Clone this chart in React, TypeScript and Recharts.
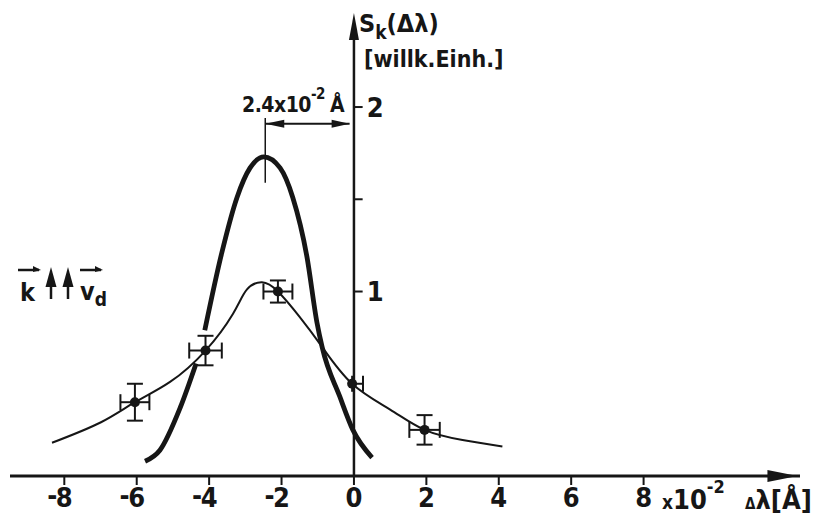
import React from "react"
import {
  ComposedChart,
  Line,
  Scatter,
  ErrorBar,
  XAxis,
  YAxis,
  ReferenceLine,
  ReferenceDot,
} from "recharts"

const xTicks = [-8, -6, -4, -2, 0, 2, 4, 6, 8]
const yTicks = [1, 1.5, 2]
const yTickLabels = ["1", "", "2"]

// Messpunkte (x in 10^-2 Å) mit Fehlerbalken
const measX = [-6.05, -4.1, -2.1, -0.05, 1.95]
const measY = [0.4, 0.68, 1.0, 0.5, 0.25]
const measErrX = [[0.4, 0.4], [0.45, 0.45], [0.4, 0.4], [0, 0.3], [0.42, 0.42]]
const measErrY = [0.1, 0.08, 0.06, 0, 0.08]

// duenne Kurve durch die Messpunkte
const thinX = [-8.34, -7.0, -6.05, -5.08, -4.1, -3.34, -2.96, -2.54, -2.1, -1.49, -0.88, -0.05, 1.0, 1.95, 3.0, 4.1]
const thinY = [0.18, 0.29, 0.4, 0.51, 0.68, 0.88, 1.01, 1.05, 1.0, 0.86, 0.7, 0.5, 0.36, 0.25, 0.195, 0.16]

// dicke Kurve (Luecke beim Messpunkt bei -4)
const thickX = [-5.77, -5.36, -4.8, -4.36, -4.24, -4.12, -3.65, -3.23, -2.87, -2.49, -2.04, -1.69, -1.3, -1.02, -0.88, -0.39, -0.03, 0.5]
const thickY = [0.08, 0.14, 0.37, 0.61, null, 0.79, 1.21, 1.51, 1.67, 1.73, 1.67, 1.51, 1.19, 0.83, 0.7, 0.43, 0.25, 0.1]

const ink = "#161616"
const font = "'DejaVu Sans Condensed', 'DejaVu Sans', sans-serif"

const thinData = thinX.map((x, i) => ({ x, y: thinY[i] }))
const thickData = thickX.map((x, i) => ({ x, y: thickY[i] }))
const measData = measX.map((x, i) => ({ x, y: measY[i], ex: measErrX[i], ey: measErrY[i] }))

function XTick(props: any) {
  const { x, y, payload } = props
  const v = payload.value
  return (
    <g fontFamily={font} fontWeight={700} fontSize={27} fill={ink}>
      <text x={x} y={y + 20} textAnchor="middle">{String(Math.abs(v))}</text>
      {v < 0 && (
        <text x={x - 7} y={y + 18} textAnchor="end">-</text>
      )}
    </g>
  )
}

const arrowUp = (p: any) => (
  <path d={`M${p.cx},${p.cy} L${p.cx - 5},${p.cy + 27} L${p.cx + 5},${p.cy + 27} Z`} fill={ink} />
)
const arrowRight = (p: any) => (
  <path d={`M${p.cx},${p.cy} L${p.cx - 30},${p.cy - 6} L${p.cx - 30},${p.cy + 6} Z`} fill={ink} />
)
const smallRight = (p: any) => (
  <path d={`M${p.cx},${p.cy} L${p.cx - 18},${p.cy - 4} L${p.cx - 18},${p.cy + 4} Z`} fill={ink} />
)
const smallLeft = (p: any) => (
  <path d={`M${p.cx},${p.cy} L${p.cx + 19},${p.cy - 4} L${p.cx + 19},${p.cy + 4} Z`} fill={ink} />
)

export default function App() {
  return (
    <div style={{ position: "absolute", left: 0, top: 0, width: 820, height: 518, background: "#fff" }}>
      <ComposedChart width={820} height={518} margin={{ top: 10, right: 20, bottom: 12, left: 10 }}>
        <XAxis
          type="number"
          dataKey="x"
          domain={[-9.5, 12.32]}
          ticks={xTicks}
          interval={0}
          allowDataOverflow
          height={30}
          axisLine={{ stroke: ink, strokeWidth: 3 }}
          tickLine={{ stroke: ink, strokeWidth: 2 }}
          tickSize={9}
          tickMargin={2}
          tick={<XTick />}
        />
        <YAxis type="number" domain={[0, 2.526]} hide allowDataOverflow />
        <ReferenceLine segment={[{ x: 0, y: 0 }, { x: 0, y: 2.4 }]} stroke={ink} strokeWidth={2.5} />
        <ReferenceDot x={0} y={2.51} r={0} shape={arrowUp} />
        <ReferenceDot x={12.25} y={0} r={0} shape={arrowRight} />
        {yTicks.map((t, i) => (
          <ReferenceLine
            key={t}
            segment={[{ x: 0, y: t }, { x: 0.24, y: t }]}
            stroke={ink}
            strokeWidth={2}
            label={{
              value: yTickLabels[i],
              position: "right",
              offset: 4,
              fill: ink,
              fontSize: 27,
              fontWeight: 700,
              fontFamily: font,
            }}
          />
        ))}
        <ReferenceLine segment={[{ x: -2.45, y: 1.59 }, { x: -2.45, y: 1.94 }]} stroke={ink} strokeWidth={1.5} />
        <ReferenceLine segment={[{ x: -2.45, y: 1.91 }, { x: -0.12, y: 1.91 }]} stroke={ink} strokeWidth={2} />
        <ReferenceDot x={-2.45} y={1.91} r={0} shape={smallLeft} />
        <ReferenceDot x={-0.12} y={1.91} r={0} shape={smallRight} />
        <Line
          data={thickData}
          dataKey="y"
          type="monotone"
          stroke={ink}
          strokeWidth={4.8}
          dot={false}
          connectNulls={false}
          isAnimationActive={false}
        />
        <Line
          data={thinData}
          dataKey="y"
          type="natural"
          stroke={ink}
          strokeWidth={2}
          dot={false}
          isAnimationActive={false}
        />
        <Scatter
          data={measData}
          dataKey="y"
          isAnimationActive={false}
          shape={(p: any) => <circle cx={p.cx} cy={p.cy} r={5} fill={ink} />}
        >
          <ErrorBar dataKey="ex" direction="x" width={8} stroke={ink} strokeWidth={2} isAnimationActive={false} />
          <ErrorBar dataKey="ey" direction="y" width={8} stroke={ink} strokeWidth={2} isAnimationActive={false} />
        </Scatter>
      </ComposedChart>
      <svg
        width={820}
        height={518}
        style={{ position: "absolute", left: 0, top: 0, pointerEvents: "none" }}
        fontFamily={font}
        fontWeight={700}
        fill={ink}
      >
        <text x={359} y={32} fontSize={25}>
          S<tspan fontSize={19} dy={7}>k</tspan>
          <tspan dy={-7}>(Δλ)</tspan>
        </text>
        <text x={364} y={67} fontSize={23}>[willk.Einh.]</text>

        <text x={242} y={112} fontSize={21} letterSpacing={-0.5}>
          2.4x10<tspan fontSize={15} dy={-13}>-2</tspan>
          <tspan dy={13} dx={5}>Å</tspan>
        </text>

        <text x={20} y={301} fontSize={25}>k</text>
        <text x={80} y={300} fontSize={25}>
          v<tspan fontSize={19} dy={6}>d</tspan>
        </text>
        <g stroke={ink} strokeWidth={2.5} fill="none">
          <path d="M18,270 L39,270" />
          <path d="M80,270 L101,270" />
          <path d="M51,299 L51,278" />
          <path d="M68,299 L68,278" />
        </g>
        <path d="M33,266 L41,270 L33,272 Z" />
        <path d="M95,266 L103,270 L95,272 Z" />
        <path d="M51,267 L45.5,287 L56.5,287 Z" />
        <path d="M68,267 L62.5,287 L73.5,287 Z" />

        <text x={662} y={509} fontSize={27}>
          <tspan fontSize={19}>x</tspan>10<tspan fontSize={18} dy={-16}>-2</tspan>
        </text>
        <text x={745} y={509} fontSize={27}>
          <tspan fontSize={15}>Δ</tspan>λ[Å]
        </text>
      </svg>
    </div>
  )
}
